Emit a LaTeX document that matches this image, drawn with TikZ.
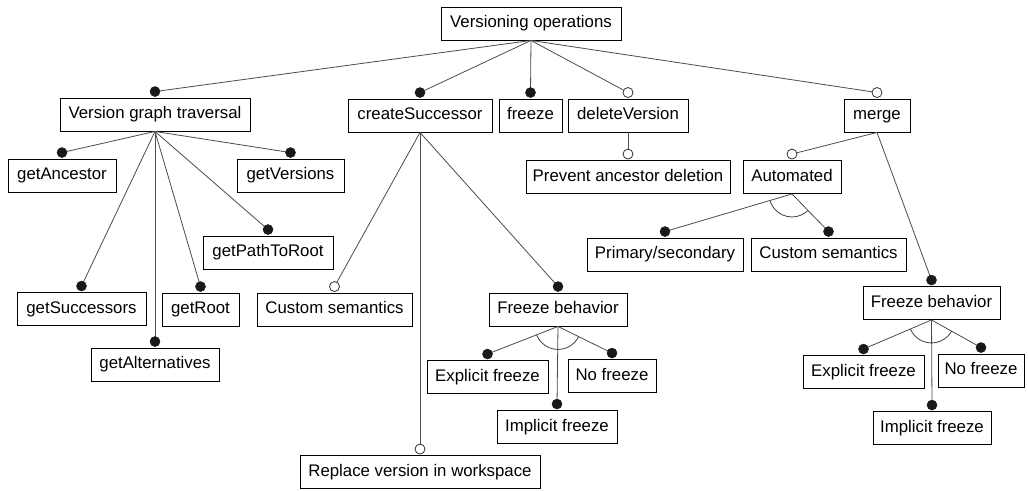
\documentclass[tikz,border=0pt]{standalone}
\usepackage{fontspec}
\setmainfont{Liberation Sans}
\usetikzlibrary{calc}

\tikzset{
  feat/.style={draw=black, line width=0.9pt, rectangle, inner sep=0pt,
    minimum height=33pt, text height=12.2pt, text depth=3.4pt,
    font=\fontsize{16.8}{19}\selectfont, fill=white},
  conn/.style={draw=black!70, line width=0.8pt},
  mand/.style={circle, fill=black!90, draw=black!90, inner sep=0pt,
    minimum size=10pt, line width=0.5pt},
  opt/.style={circle, fill=white, draw=black!80, inner sep=0pt,
    minimum size=10pt, line width=0.8pt},
  altarc/.style={draw=black!75, line width=0.8pt},
}

% parent, child, dot style
\newcommand\fconn[3]{%
  \path ($(#2.north)+(0pt,6pt)$) coordinate (#2-d);
  \draw[conn] (#1.south) -- (#2-d);
  \node[#3] (#2-dot) at (#2-d) {};
}
% alternative group arc between two outer children of a parent
\newcommand\altgroup[3]{%
  \begin{scope}
    \clip (#1.south) -- ($(#1.south)!3!(#2-d)$) -- ($(#1.south)!3!(#3-d)$) -- cycle;
    \draw[altarc] (#1.south) circle[radius=23pt];
  \end{scope}
}

\begin{document}
\begin{tikzpicture}[x=1pt,y=-1pt]
\useasboundingbox (0,0) rectangle (1028,490);
\fill[white] (0,0) rectangle (1028,490);

% root and first level
\node[feat, minimum width=180pt] (root) at (531,23.5) {Versioning operations};
\node[feat, minimum width=190pt] (vgt) at (155,114.5) {Version graph traversal};
\node[feat, minimum width=144pt] (cs) at (420,115.5) {createSuccessor};
\node[feat, minimum width=63pt] (frz) at (530.5,115.5) {freeze};
\node[feat, minimum width=120pt] (del) at (628,115.5) {deleteVersion};
\node[feat, minimum width=66pt] (mrg) at (877,115.5) {merge};

% version graph traversal
\node[feat, minimum width=108pt] (ganc) at (62,175.5) {getAncestor};
\node[feat, minimum width=107pt] (gver) at (290.5,175.5) {getVersions};
\node[feat, minimum width=130pt] (gpath) at (268,252.5) {getPathToRoot};
\node[feat, minimum width=129pt] (gsucc) at (81.5,309) {getSuccessors};
\node[feat, minimum width=77pt] (groot) at (200.5,309.5) {getRoot};
\node[feat, minimum width=128pt] (galt) at (155,364.5) {getAlternatives};

% createSuccessor
\node[feat, minimum width=155pt] (csem) at (334.5,309.5) {Custom semantics};
\node[feat, minimum width=138pt] (fbA) at (558,309.5) {Freeze behavior};
\node[feat, minimum width=121pt] (efA) at (487.5,377) {Explicit freeze};
\node[feat, minimum width=88pt] (nfA) at (612,376) {No freeze};
\node[feat, minimum width=120pt] (ifA) at (557,427) {Implicit freeze};
\node[feat, minimum width=240pt] (repl) at (420,472) {Replace version in workspace};

% deleteVersion
\node[feat, minimum width=204pt] (prev) at (628,177) {Prevent ancestor deletion};

% merge
\node[feat, minimum width=98pt] (auto) at (792,177) {Automated};
\node[feat, minimum width=156pt] (prim) at (665,254.5) {Primary/secondary};
\node[feat, minimum width=155pt] (msem) at (828.5,254.5) {Custom semantics};
\node[feat, minimum width=137pt] (fbB) at (931.5,303) {Freeze behavior};
\node[feat, minimum width=121pt] (efB) at (863.5,372) {Explicit freeze};
\node[feat, minimum width=86pt] (nfB) at (981,370.5) {No freeze};
\node[feat, minimum width=118pt] (ifB) at (932,428) {Implicit freeze};

% connectors
\fconn{root}{vgt}{mand}
\fconn{root}{cs}{mand}
\fconn{root}{frz}{mand}
\fconn{root}{del}{opt}
\fconn{root}{mrg}{opt}

\fconn{vgt}{ganc}{mand}
\fconn{vgt}{gver}{mand}
\fconn{vgt}{gpath}{mand}
\fconn{vgt}{gsucc}{mand}
\fconn{vgt}{groot}{mand}
\fconn{vgt}{galt}{mand}

\fconn{cs}{csem}{opt}
\fconn{cs}{fbA}{mand}
\fconn{cs}{repl}{opt}
\fconn{fbA}{efA}{mand}
\fconn{fbA}{nfA}{mand}
\fconn{fbA}{ifA}{mand}
\altgroup{fbA}{efA}{nfA}

\fconn{del}{prev}{opt}

\fconn{mrg}{auto}{opt}
\fconn{mrg}{fbB}{mand}
\fconn{auto}{prim}{mand}
\fconn{auto}{msem}{mand}
\altgroup{auto}{prim}{msem}
\fconn{fbB}{efB}{mand}
\fconn{fbB}{nfB}{mand}
\fconn{fbB}{ifB}{mand}
\altgroup{fbB}{efB}{nfB}
\end{tikzpicture}
\end{document}
